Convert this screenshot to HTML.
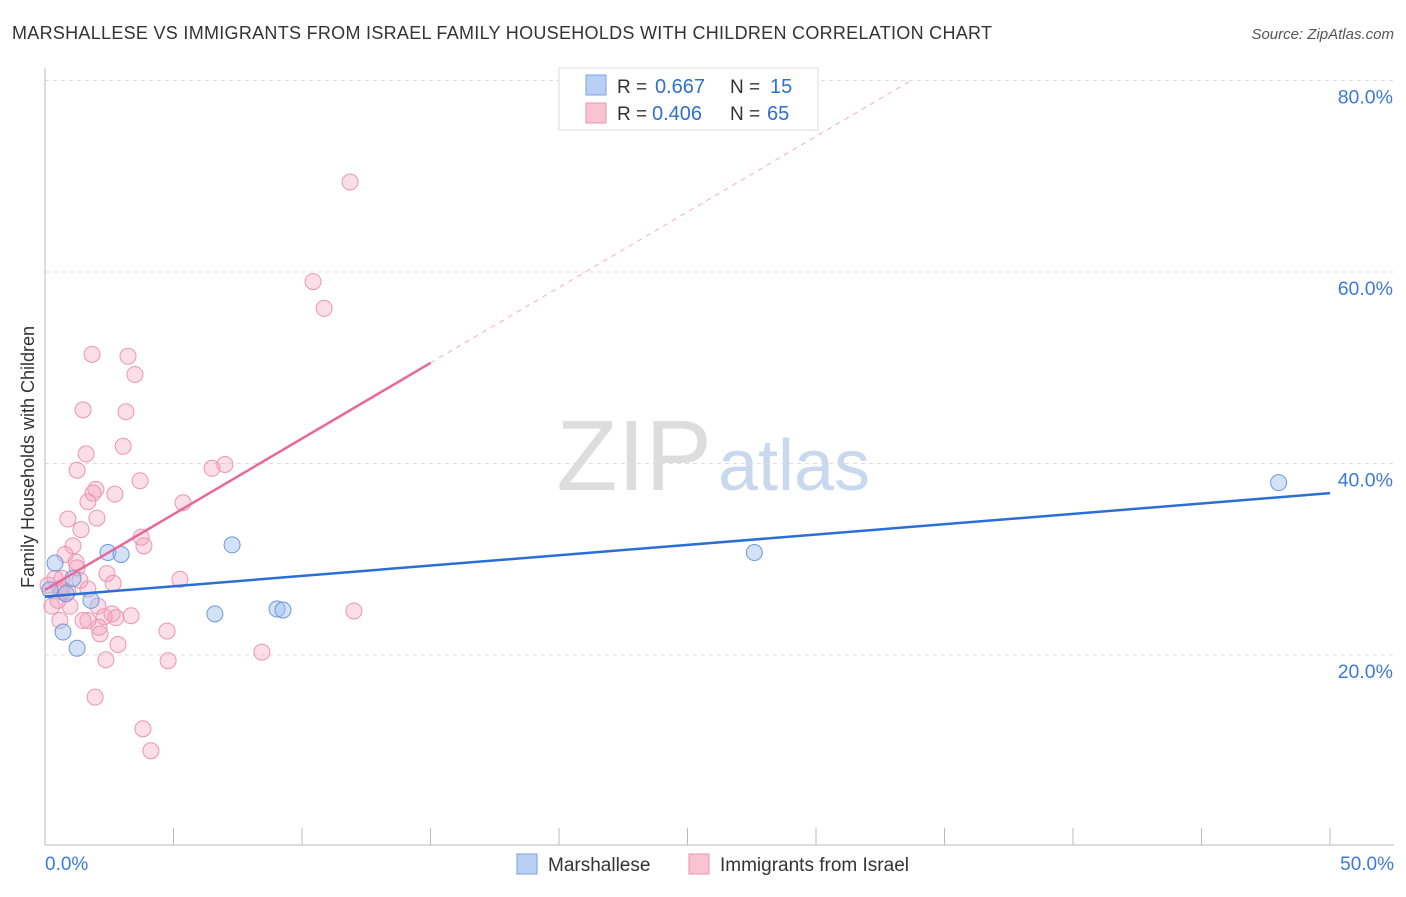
<!DOCTYPE html>
<html><head><meta charset="utf-8"><style>
body{margin:0;background:#fff;font-family:"Liberation Sans",sans-serif;}
svg text{font-family:"Liberation Sans",sans-serif;}
</style></head><body>
<svg width="1406" height="892">
<text x="12" y="39" font-size="18" fill="#333" textLength="980">MARSHALLESE VS IMMIGRANTS FROM ISRAEL FAMILY HOUSEHOLDS WITH CHILDREN CORRELATION CHART</text>
<text x="1394" y="39" font-size="15" fill="#555" text-anchor="end" font-style="italic">Source: ZipAtlas.com</text>
<text x="712" y="490" font-size="100" fill="#ddd" text-anchor="end" font-family="Liberation Serif">ZIP</text>
<text x="718" y="490" font-size="72" fill="#c8d8ef">atlas</text>
<g id="grid"></g>
<g id="axes"></g>
<g id="marks"></g>
<text transform="translate(34,457) rotate(-90)" font-size="18" fill="#333" text-anchor="middle">Family Households with Children</text>
<g>
<rect x="559" y="68" width="259" height="62" fill="#fff" stroke="#ddd"/>
<rect x="586" y="75" width="20" height="20" fill="#b8d0f4" stroke="#7aa3e0"/>
<text x="617" y="93" font-size="19" fill="#333">R =</text>
<text x="655" y="93" font-size="20" fill="#2f6fd0">0.667</text>
<text x="730" y="93" font-size="19" fill="#333">N =</text>
<text x="770" y="93" font-size="20" fill="#2f6fd0">15</text>
<rect x="586" y="103" width="20" height="20" fill="#f8c4d4" stroke="#e995b0"/>
<text x="617" y="120" font-size="19" fill="#333">R =</text>
<text x="652" y="120" font-size="20" fill="#2f6fd0">0.406</text>
<text x="730" y="120" font-size="19" fill="#333">N =</text>
<text x="767" y="120" font-size="20" fill="#2f6fd0">65</text>
</g>
<g>
<rect x="517" y="854" width="20" height="20" fill="#b8d0f4" stroke="#7aa3e0"/>
<text x="548" y="871" font-size="19" fill="#333">Marshallese</text>
<rect x="689" y="854" width="20" height="20" fill="#f8c4d4" stroke="#e995b0"/>
<text x="720" y="871" font-size="19" fill="#333">Immigrants from Israel</text>
</g>
</svg>
<script>
const yTicks=[20,40,60,80];
const yTickLabels=["20.0%","40.0%","60.0%","80.0%"];
const xTickLabels=["0.0%","50.0%"];
const blueX=[0.39,0.70,1.25,1.09,1.79,2.45,2.96,7.28,6.61,9.03,9.26,27.6,48.0,0.19,0.82];
const blueY=[29.6,22.4,20.7,28.0,25.7,30.7,30.5,31.5,24.3,24.8,24.7,30.7,38.0,26.8,26.4];
const pinkX=[11.87,10.43,10.86,1.83,3.23,3.50,1.48,3.15,3.04,1.60,1.25,6.50,7.00,3.70,1.98,1.87,2.72,1.67,5.37,0.89,2.02,1.40,3.74,3.85,1.09,0.78,1.21,1.25,2.41,5.25,2.65,1.67,2.06,0.97,0.27,0.51,0.66,0.39,0.12,0.89,0.58,1.36,0.66,2.61,2.76,2.30,3.35,1.67,1.48,0.58,2.10,2.14,4.75,2.84,2.37,4.79,8.44,12.02,1.95,3.81,4.12];
const pinkY=[69.4,59.0,56.2,51.4,51.2,49.3,45.6,45.4,41.8,41.0,39.3,39.5,39.9,38.2,37.3,36.9,36.8,36.0,35.9,34.2,34.3,33.1,32.3,31.4,31.4,30.5,29.7,29.1,28.5,27.9,27.5,26.9,25.1,25.1,25.1,25.7,28.0,28.0,27.3,26.6,26.9,27.8,26.6,24.3,23.9,24.0,24.1,23.6,23.6,23.6,22.9,22.2,22.5,21.1,19.5,19.4,20.3,24.6,15.6,12.3,10.0];
const blueLine=[[0,26.1],[50,36.9]];
const pinkLine=[[0,26.8],[15.0,50.5]];
const pinkDash=[[15.0,50.5],[33.7,80.0]];
const NS="http://www.w3.org/2000/svg";
const xs=v=>45+v*25.7, ys=v=>846.5-v*9.575;
function mk(t,a,p){const e=document.createElementNS(NS,t);for(const k in a)e.setAttribute(k,a[k]);document.getElementById(p).appendChild(e);return e;}
yTicks.forEach((t,i)=>{
 const g=mk('line',{x1:45,x2:1394,y1:ys(t),y2:ys(t),stroke:'#ddd','stroke-dasharray':'4,4'},'grid');
 
 
 const l=mk('text',{x:1393,y:ys(t)+23,'font-size':19.5,fill:'#3d7ad8','text-anchor':'end'},'axes');
 l.textContent=yTickLabels[i];
 
 
});
let a=mk('line',{x1:45,x2:45,y1:68,y2:845,stroke:'#bbb'},'axes');


a=mk('line',{x1:45,x2:1394,y1:845,y2:845,stroke:'#bbb'},'axes');


for(let i=0;i<=10;i++){
 const t=mk('line',{x1:xs(i*5),x2:xs(i*5),y1:828,y2:845,stroke:'#bbb'},'axes');
 
 
}
[[0,'start',45],[50,'end',1394]].forEach((d,i)=>{
 const l=mk('text',{x:d[2],y:870,'font-size':19,fill:'#3d7ad8','text-anchor':d[1]},'axes');
 l.textContent=xTickLabels[i];
 
 
});
pinkX.forEach((x,i)=>{
 const c=mk('circle',{cx:xs(x),cy:ys(pinkY[i]),r:8,fill:'rgba(244,160,188,0.35)',stroke:'#eb95b1','stroke-width':1},'marks');
 
 
});
blueX.forEach((x,i)=>{
 const c=mk('circle',{cx:xs(x),cy:ys(blueY[i]),r:8,fill:'rgba(160,190,240,0.45)',stroke:'#6b98dc','stroke-width':1},'marks');
 
 
});
let l=mk('line',{x1:xs(pinkDash[0][0]),y1:ys(pinkDash[0][1]),x2:xs(pinkDash[1][0]),y2:ys(pinkDash[1][1]),stroke:'#f0b0c4','stroke-dasharray':'5,5'},'marks');


l=mk('line',{x1:xs(pinkLine[0][0]),y1:ys(pinkLine[0][1]),x2:xs(pinkLine[1][0]),y2:ys(pinkLine[1][1]),stroke:'#e8689a','stroke-width':2.5},'marks');


l=mk('line',{x1:xs(blueLine[0][0]),y1:ys(blueLine[0][1]),x2:xs(blueLine[1][0]),y2:ys(blueLine[1][1]),stroke:'#2a6fd4','stroke-width':2.5},'marks');


</script>
</body></html>
